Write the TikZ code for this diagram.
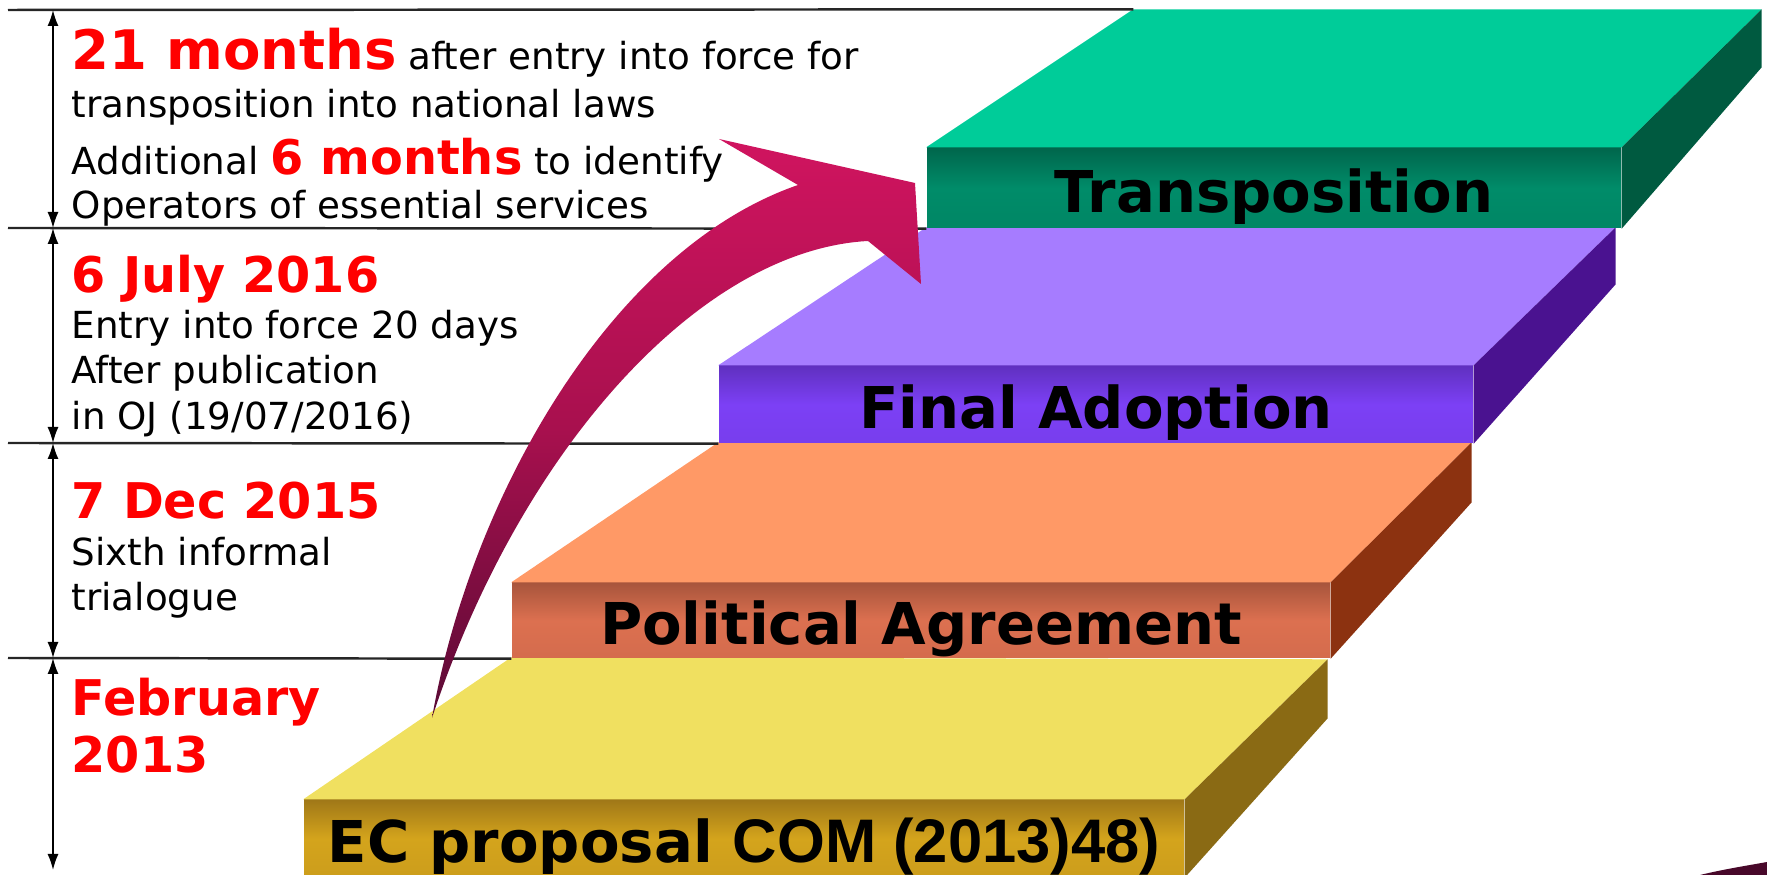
\documentclass[tikz,border=0pt]{standalone}
\usepackage{fontspec}
\setmainfont{DejaVu Sans}
\newfontfamily\comfont{Liberation Sans}
\usetikzlibrary{calc,arrows.meta}
\definecolor{grnTop}{HTML}{00CC99}
\definecolor{grnDark}{HTML}{00664C}
\definecolor{grnMid}{HTML}{008C69}
\definecolor{grnSide}{HTML}{005A40}
\definecolor{purTop}{HTML}{A67CFF}
\definecolor{purDark}{HTML}{6030C0}
\definecolor{purMid}{HTML}{7C40F5}
\definecolor{purSide}{HTML}{4A1290}
\definecolor{orgTop}{HTML}{FF9966}
\definecolor{orgDark}{HTML}{A8553C}
\definecolor{orgMid}{HTML}{DC7050}
\definecolor{orgSide}{HTML}{8C3210}
\definecolor{yelTop}{HTML}{F0E060}
\definecolor{yelDark}{HTML}{A07818}
\definecolor{yelMid}{HTML}{D4A41C}
\definecolor{yelSide}{HTML}{8A6A14}
\definecolor{arrTop}{HTML}{D0145F}
\definecolor{arrMid}{HTML}{A8104E}
\definecolor{arrBot}{HTML}{5A0A35}
\tikzstyle{stepface} = [rectangle, inner sep=0pt, text height=13.7pt, text depth=0pt,
    font=\fontsize{16.4}{19}\selectfont\bfseries]
\tikzstyle{note} = [anchor=base west, inner sep=0pt, font=\fontsize{10.6}{12.8}\selectfont]
\tikzstyle{date} = [note, text=red, font=\fontsize{14}{16}\selectfont\bfseries]
\tikzstyle{rule} = [draw, line width=0.7pt, black!85]
\tikzstyle{span} = [draw, line width=0.45pt, {Latex[length=1.6mm,width=1.1mm]}-{Latex[length=1.6mm,width=1.1mm]}]

\begin{document}
\begin{tikzpicture}[x=0.1mm, y=-0.1mm]
\useasboundingbox (0,0) rectangle (1767,875);
%Steps:
\node[stepface, minimum width=8.80cm, minimum height=0.77cm, top color=yelDark, bottom color=yelMid!85!yelDark, middle color=yelMid] (F_E) at (744,838.5) {EC proposal {\comfont\fontsize{17.5}{20}\selectfont COM (2013)48)}};
\fill[yelTop] (F_E.north west) -- ++(208,-142) -- ($(F_E.north east)+(143,-140)$) -- (F_E.north east) -- cycle;
\fill[yelSide] (F_E.north east) -- ++(143,-140) -- ++(0,59) -- (F_E.south east) -- cycle;
\node[stepface, minimum width=8.18cm, minimum height=0.75cm, top color=orgDark, bottom color=orgMid!85!orgDark, middle color=orgMid] (F_P) at (921,620.5) {Political Agreement};
\fill[orgTop] (F_P.north west) -- ++(207,-140) -- ($(F_P.north east)+(141,-140)$) -- (F_P.north east) -- cycle;
\fill[orgSide] (F_P.north east) -- ++(141,-140) -- ++(0,60) -- (F_P.south east) -- cycle;
\node[stepface, minimum width=7.54cm, minimum height=0.77cm, top color=purDark, bottom color=purMid!85!purDark, middle color=purMid] (F_A) at (1096,404.5) {Final Adoption};
\fill[purTop] (F_A.north west) -- ++(208,-138) -- ($(F_A.north east)+(142,-138)$) -- (F_A.north east) -- cycle;
\fill[purSide] (F_A.north east) -- ++(142,-138) -- ++(0,57) -- (F_A.south east) -- cycle;
\node[stepface, minimum width=6.94cm, minimum height=0.80cm, top color=grnDark, bottom color=grnMid!85!grnDark, middle color=grnMid] (F_T) at (1274,188) {Transposition};
\fill[grnTop] (F_T.north west) -- ++(207,-138) coordinate (T_back) -- ($(F_T.north east)+(140,-138)$) -- (F_T.north east) -- cycle;
\fill[grnSide] (F_T.north east) -- ++(140,-138) -- ++(0,58) -- (F_T.south east) -- cycle;
%Rules and spans:
\coordinate (r0) at (8,10);
\coordinate (r1) at (8,228);
\coordinate (r2) at (8,443);
\coordinate (r3) at (8,658);
\draw[rule] (r0) -- (T_back);
\draw[rule] (r1) -- (F_T.south west);
\draw[rule] (r2) -- (F_A.south west);
\draw[rule] (r3) -- (F_P.south west);
\coordinate (d0) at (53,10);
\coordinate (d1) at (53,228);
\coordinate (d2) at (53,443);
\coordinate (d3) at (53,658);
\coordinate (d4) at (53,870);
\draw[span] (d0) -- (d1);
\draw[span] (d1) -- (d2);
\draw[span] (d2) -- (d3);
\draw[span] (d3) -- (d4);
%Notes:
\node[note] (N1a) at (71,70) {{\color{red}\fontsize{15.5}{18}\selectfont\bfseries 21 months} after entry into force for};
\node[note] (N1b) at (71,118) {transposition into national laws};
\node[note] (N1c) at (71,175) {Additional {\color{red}\fontsize{13.6}{16}\selectfont\bfseries 6 months} to identify};
\node[note] (N1d) at (71,219) {Operators of essential services};
\node[date] (N2a) at (71,293) {6 July 2016};
\node[note] (N2b) at (71,339) {Entry into force 20 days};
\node[note] (N2c) at (71,384) {After publication};
\node[note] (N2d) at (71,430) {in OJ (19/07/2016)};
\node[date] (N3a) at (71,519) {7 Dec 2015};
\node[note] (N3b) at (71,566) {Sixth informal};
\node[note] (N3c) at (71,611) {trialogue};
\node[date] (N4a) at (71,716) {February};
\node[date] (N4b) at (71,773) {2013};
%Arrow:
\coordinate (A_tail) at (432,718);
\coordinate (A_tip) at (915,183);
\shade[top color=arrTop, bottom color=arrBot, middle color=arrMid] (A_tail) .. controls (470,500) and (610,250) .. (798,185) -- (719,139) -- (A_tip) -- (921,284) -- (868,241) .. controls (700,250) and (520,450) .. (A_tail) -- cycle;
\fill[arrBot!80!black] (1700,875) .. controls (1725,869) and (1745,866) .. (1767,862) -- (1767,875) -- cycle;
\end{tikzpicture}
\end{document}
